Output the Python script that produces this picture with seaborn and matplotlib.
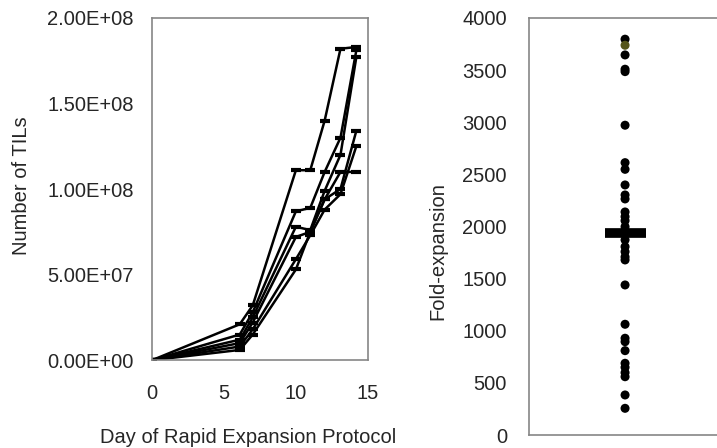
import matplotlib
matplotlib.use("Agg")
import matplotlib.pyplot as plt
import numpy as np
import pandas as pd
import seaborn as sns
from matplotlib.ticker import FuncFormatter, MultipleLocator

sns.set_style("white")
plt.rcParams["font.family"] = ["Liberation Sans", "DejaVu Sans"]

# Growth curves during rapid expansion (cells)
days = [0, 6.1, 7.0, 10.0, 11.0, 12.0, 13.1, 14.2]
tils_a = [0, 21e6, 32e6, 111e6, 111e6, 140e6, 182e6, 183e6]
tils_b = [0, 15e6, 28e6, 87e6, 89e6, 110e6, 130e6, 181e6]
tils_c = [0, 12e6, 25e6, 78e6, 76e6, 99e6, 120e6, 177e6]
tils_d = [0, 10e6, 22e6, 72e6, 75e6, 94e6, 100e6, 134e6]
tils_e = [0, 8e6, 18e6, 59e6, 73e6, 88e6, 97e6, 125e6]
tils_f = [0, 6e6, 15e6, 53e6, 75e6, 94e6, 110e6, 110e6]

# Fold-expansion per patient
fold_expansion = [3796, 3738, 3645, 3508, 3485, 2971, 2612, 2548, 2398, 2302,
                  2264, 2139, 2094, 2056, 1998, 1940, 1871, 1806, 1758, 1708,
                  1679, 1439, 1062, 928, 895, 809, 688, 649, 598, 559, 384, 256]
highlight_value = 3738
median_fold = 1940

series = {"a": tils_a, "b": tils_b, "c": tils_c, "d": tils_d, "e": tils_e, "f": tils_f}
curves = pd.DataFrame(
    [(name, d, v) for name, vals in series.items() for d, v in zip(days, vals)],
    columns=["series", "day", "tils"],
)
folds = pd.DataFrame({"group": [""] * len(fold_expansion), "fold": fold_expansion})
folds["hl"] = folds["fold"] == highlight_value

SPINE = "#868686"
FS = 14.5

fig = plt.figure(figsize=(7.17, 4.48), dpi=100)

# ---- left: growth curves
ax1 = fig.add_axes([0.212, 0.196, 0.301, 0.764])
sns.lineplot(data=curves, x="day", y="tils", units="series", estimator=None,
             color="black", lw=1.8, marker="_", markersize=7, mew=3,
             mec="black", mfc="black", sort=False, ax=ax1)
ax1.set_xlim(0, 15)
ax1.set_ylim(0, 2e8)
ax1.xaxis.set_major_locator(MultipleLocator(5))
ax1.yaxis.set_major_locator(MultipleLocator(5e7))
ax1.yaxis.set_major_formatter(FuncFormatter(lambda v, _: f"{v:.2E}"))
ax1.set_xlabel("Day of Rapid Expansion Protocol", fontsize=FS)
ax1.xaxis.set_label_coords(0.445, -0.198)
ax1.set_ylabel("Number of TILs", fontsize=FS)
ax1.yaxis.set_label_coords(-0.56, 0.51)
ax1.tick_params(axis="x", length=4, width=1, color=SPINE, pad=13, labelsize=FS)
ax1.tick_params(axis="y", length=4, width=1, color=SPINE, pad=9, labelsize=FS)
for sp in ax1.spines.values():
    sp.set_color(SPINE)
    sp.set_linewidth(1.2)

# ---- right: fold expansion scatter
ax2 = fig.add_axes([0.738, 0.029, 0.294, 0.931])
sns.stripplot(data=folds, x="group", y="fold", hue="hl", jitter=False,
              palette={False: "black", True: "#55551a"}, size=6.5,
              legend=False, ax=ax2)
ax2.hlines(median_fold, -0.097, 0.097, color="black", lw=7, zorder=5)
ax2.set_xlim(-0.455, 0.545)
ax2.set_ylim(0, 4000)
ax2.yaxis.set_major_locator(MultipleLocator(500))
ax2.set_xticks([])
ax2.set_xlabel("")
ax2.set_ylabel("Fold-expansion", fontsize=FS)
ax2.yaxis.set_label_coords(-0.39, 0.44)
ax2.tick_params(axis="y", length=5, width=1, color=SPINE, pad=11, labelsize=FS)
for sp in ax2.spines.values():
    sp.set_color(SPINE)
    sp.set_linewidth(1.2)

fig.savefig("out.png", dpi=100)
